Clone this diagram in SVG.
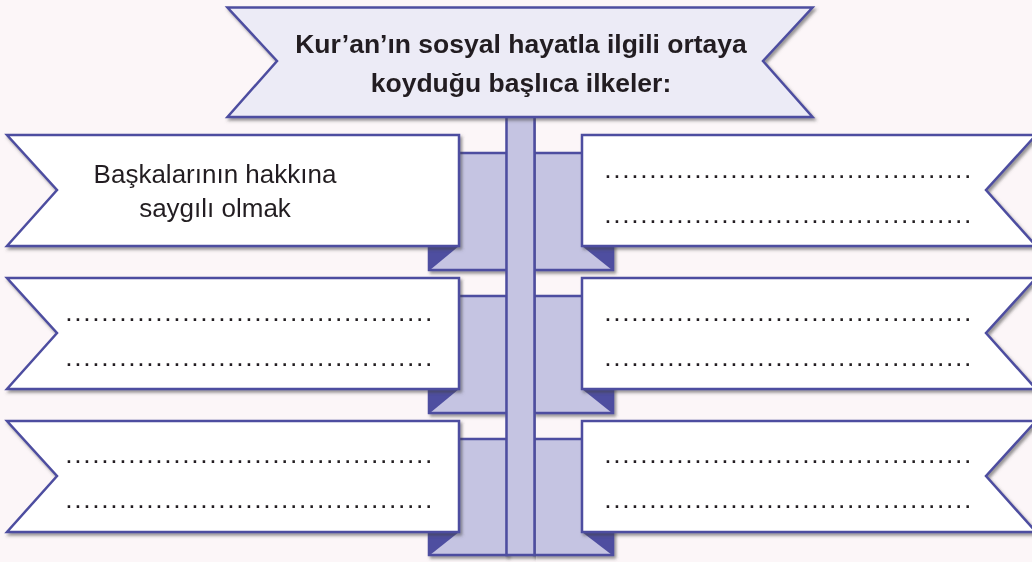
<svg xmlns="http://www.w3.org/2000/svg" width="1032" height="562" viewBox="0 0 1032 562">
<style>
.ln{stroke:#4e4ea0;stroke-width:2.5;stroke-linejoin:miter}
.lav{fill:#c5c4e2}
.dark{fill:#4e4ea0}
.ban{fill:#ffffff}
.ttl{font-family:"Liberation Sans",Arial,sans-serif;font-weight:bold;font-size:26.5px;fill:#231f20;text-anchor:middle}
.lbl{font-family:"Liberation Sans",Arial,sans-serif;font-size:26px;fill:#231f20;text-anchor:middle}
.dots{font-family:"Liberation Sans",Arial,sans-serif;font-size:26.5px;fill:#231f20;letter-spacing:1.63px}
</style>
<defs>
<filter id="sh" x="-5%" y="-5%" width="110%" height="120%">
<feDropShadow dx="2" dy="2.5" stdDeviation="1.5" flood-color="#444" flood-opacity="0.55"/>
</filter>
</defs>
<rect width="1032" height="562" fill="#fcf6f8"/>
<g id="connectors">
<g filter="url(#sh)">
<rect class="lav ln" x="429" y="153" width="78" height="117"/>
<rect class="lav ln" x="534" y="153" width="79" height="117"/>
<rect class="lav ln" x="429" y="296" width="78" height="117"/>
<rect class="lav ln" x="534" y="296" width="79" height="117"/>
<rect class="lav ln" x="429" y="439" width="78" height="116"/>
<rect class="lav ln" x="534" y="439" width="79" height="116"/>
</g>
<polygon class="dark" points="429,246 459,246 430,270"/>
<polygon class="dark" points="582,246 613,246 612,270"/>
<polygon class="dark" points="429,389 459,389 430,413"/>
<polygon class="dark" points="582,389 613,389 612,413"/>
<polygon class="dark" points="429,532 459,532 430,555"/>
<polygon class="dark" points="582,532 613,532 612,555"/>
<rect class="lav ln" x="506.5" y="110" width="28" height="445" filter="url(#sh)"/>
</g>
<g id="title" filter="url(#sh)">
<polygon class="ln" fill="#ecebf6" points="227.5,7.5 812.5,7.5 763,61 812.5,117 227.5,117 277,61"/>
<text class="ttl" x="521" y="53">Kur’an’ın sosyal hayatla ilgili ortaya</text>
<text class="ttl" x="521" y="92">koyduğu başlıca ilkeler:</text>
</g>
<g id="left1" filter="url(#sh)">
<polygon class="ban ln" points="7,135 459,135 459,246 7,246 57,190"/>
<text class="lbl" x="215" y="183">Başkalarının hakkına</text>
<text class="lbl" x="215" y="217">saygılı olmak</text>
</g>
<g id="right1" filter="url(#sh)">
<polygon class="ban ln" points="582,135 1036,135 986,190 1036,246 582,246"/>
<text class="dots" x="604.3" y="178">.........................................</text>
<text class="dots" x="604.3" y="223">.........................................</text>
</g>
<g id="left2" filter="url(#sh)">
<polygon class="ban ln" points="7,278 459,278 459,389 7,389 57,333"/>
<text class="dots" x="65.3" y="321">.........................................</text>
<text class="dots" x="65.3" y="366">.........................................</text>
</g>
<g id="right2" filter="url(#sh)">
<polygon class="ban ln" points="582,278 1036,278 986,333 1036,389 582,389"/>
<text class="dots" x="604.3" y="321">.........................................</text>
<text class="dots" x="604.3" y="366">.........................................</text>
</g>
<g id="left3" filter="url(#sh)">
<polygon class="ban ln" points="7,421 459,421 459,532 7,532 57,476"/>
<text class="dots" x="65.3" y="463">.........................................</text>
<text class="dots" x="65.3" y="508">.........................................</text>
</g>
<g id="right3" filter="url(#sh)">
<polygon class="ban ln" points="582,421 1036,421 986,476 1036,532 582,532"/>
<text class="dots" x="604.3" y="463">.........................................</text>
<text class="dots" x="604.3" y="508">.........................................</text>
</g>
</svg>
